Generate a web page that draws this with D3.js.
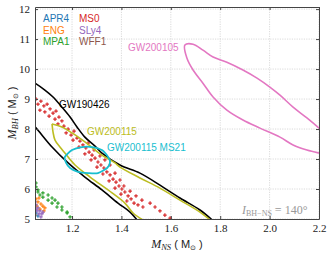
<!DOCTYPE html>
<html><head><meta charset="utf-8">
<script src="https://cdn.jsdelivr.net/npm/d3@7"></script>
<style>body{margin:0;background:#fff}svg{display:block}</style>
</head><body><svg id="c" width="333" height="254"></svg>
<script>
// ---------- data ----------
const xTicks = [1.2, 1.4, 1.6, 1.8, 2.0, 2.2];
const xTickLabels = ["1.2", "1.4", "1.6", "1.8", "2.0", "2.2"];
const yTicks = [5, 6, 7, 8, 9, 10, 11, 12];
const eosNames = ["APR4", "MS0", "ENG", "SLy4", "MPA1", "WFF1"];
const eosColors = ["#1f77b4", "#d62728", "#ff7f0e", "#9467bd", "#2ca02c", "#8c564b"];

// GW190426 contour (two branches)
const gw190426Upper = [[1.042,9.57],[1.05,9.53],[1.09,9.30],[1.123,9.07],[1.159,8.73],[1.192,8.40],[1.22,8.07],[1.252,7.73],[1.293,7.43],[1.321,7.20],[1.394,6.80],[1.475,6.53],[1.556,6.13],[1.637,5.70],[1.718,5.30],[1.767,4.97]];
const gw190426Lower = [[1.042,8.12],[1.05,8.07],[1.119,7.40],[1.184,6.87],[1.252,6.40],[1.321,5.97],[1.386,5.53],[1.435,5.23],[1.463,4.97]];
// GW200115 contour
const gw200115Upper = [[1.119,8.17],[1.159,8.07],[1.2,7.87],[1.252,7.57],[1.321,7.13],[1.374,6.87],[1.394,6.73],[1.475,6.37],[1.556,6.03],[1.637,5.63],[1.718,5.23],[1.759,4.97]];
const gw200115Lower = [[1.119,8.17],[1.123,7.90],[1.131,7.63],[1.151,7.40],[1.171,7.20],[1.212,6.80],[1.273,6.40],[1.362,5.87],[1.414,5.53],[1.447,5.20],[1.487,4.97]];
// GW200115 MS21 contour
const gw200115MS21 = [[1.171,7.07],[1.2,7.30],[1.24,7.40],[1.281,7.40],[1.321,7.30],[1.346,7.07],[1.354,6.90],[1.342,6.70],[1.305,6.53],[1.265,6.53],[1.224,6.57],[1.192,6.70],[1.176,6.87]];
// GW200105 contour (open at right edge)
const gw200105 = [[2.244,7.13],[2.2,7.20],[2.151,7.30],[2.095,7.47],[2.042,7.73],[1.961,8.03],[1.892,8.30],[1.827,8.63],[1.771,9.07],[1.73,9.53],[1.69,9.97],[1.665,10.37],[1.657,10.80],[1.69,10.83],[1.73,10.63],[1.771,10.40],[1.827,10.23],[1.892,9.97],[1.949,9.70],[2.001,9.40],[2.042,9.13],[2.095,8.73],[2.151,8.37],[2.2,8.03],[2.244,7.70]];

// EOS points
const ms0Points = [[1.054,9.00],[1.062,8.83],[1.074,8.93],[1.086,8.77],[1.099,8.83],[1.07,8.63],[1.09,8.57],[1.111,8.67],[1.123,8.53],[1.135,8.60],[1.107,8.43],[1.131,8.33],[1.147,8.40],[1.159,8.27],[1.143,8.17],[1.167,8.10],[1.184,8.00],[1.176,7.87],[1.196,7.80],[1.208,7.93],[1.22,7.70],[1.204,7.63],[1.232,7.60],[1.244,7.47],[1.228,7.40],[1.256,7.37],[1.269,7.23],[1.252,7.17],[1.281,7.13],[1.293,7.03],[1.277,6.97],[1.305,6.90],[1.317,6.80],[1.301,6.73],[1.329,6.70],[1.341,6.57],[1.325,6.50],[1.354,6.47],[1.366,6.33],[1.35,6.27],[1.378,6.23],[1.39,6.10],[1.374,6.03],[1.402,6.00],[1.414,5.90],[1.398,5.83],[1.427,5.77],[1.439,5.67],[1.422,5.60],[1.451,5.53],[1.467,5.47],[1.487,5.40],[1.516,5.53],[1.536,5.40],[1.556,5.27],[1.576,5.13],[1.597,5.03],[1.265,7.53],[1.289,7.30],[1.313,7.10],[1.333,6.97],[1.354,6.80],[1.374,6.53],[1.394,6.30],[1.41,6.10],[1.435,5.93],[1.459,5.77],[1.483,5.63]];
const mpa1Points = [[1.054,6.07],[1.062,5.97],[1.082,5.87],[1.103,5.80],[1.119,5.70],[1.131,5.63],[1.143,5.53],[1.159,5.40],[1.18,5.23],[1.192,5.07],[1.062,5.90],[1.07,5.80],[1.082,5.73],[1.103,5.63],[1.119,5.53],[1.139,5.40],[1.159,5.30],[1.18,5.20],[1.054,6.20]];
const engPoints = [[1.054,5.67],[1.066,5.70],[1.062,5.57],[1.074,5.50],[1.082,5.43],[1.09,5.37],[1.058,5.43],[1.07,5.33],[1.086,5.27]];
const sly4Points = [[1.05,5.57],[1.054,5.47],[1.062,5.37],[1.07,5.27],[1.078,5.17],[1.058,5.27],[1.066,5.17],[1.054,5.33],[1.074,5.07],[1.082,5.23]];
const apr4Points = [[1.054,5.20],[1.062,5.10]];
const wff1Points = [[1.05,5.13]];

// ---------- layout ----------
const W = 333, H = 254;
const m = {l: 35, r: 14, t: 7, b: 35};
const svg = d3.select("#c");
const x = d3.scaleLinear().domain([1.05, 2.2]).range([m.l, W - m.r]);
const y = d3.scaleLinear().domain([5, 12.07]).range([H - m.b, m.t]);
const serif = "'Liberation Serif','DejaVu Serif',serif";
const sans = "'Liberation Sans',Arial,sans-serif";

svg.append("defs").append("clipPath").attr("id", "clip")
  .append("rect").attr("x", m.l).attr("y", m.t)
  .attr("width", W - m.l - m.r).attr("height", H - m.t - m.b);

// grid
const grid = svg.append("g").attr("stroke", "#d0d0d0").attr("stroke-width", 0.8).attr("stroke-dasharray", "1.2,1.2");
grid.selectAll("line.v").data(xTicks).join("line")
  .attr("x1", d => x(d)).attr("x2", d => x(d)).attr("y1", m.t).attr("y2", H - m.b);
grid.selectAll("line.h").data(yTicks).join("line")
  .attr("x1", m.l).attr("x2", W - m.r).attr("y1", d => y(d)).attr("y2", d => y(d));

const plot = svg.append("g").attr("clip-path", "url(#clip)");
const line = d3.line().x(d => x(d[0])).y(d => y(d[1])).curve(d3.curveCatmullRom);
const closed = d3.line().x(d => x(d[0])).y(d => y(d[1])).curve(d3.curveCardinalClosed.tension(0.3));

// points
function pts(data, color) {
  plot.append("g").selectAll("path").data(data).join("path")
    .attr("transform", d => `translate(${x(d[0])},${y(d[1])})`)
    .attr("d", d3.symbol(d3.symbolCross, 7))
    .attr("fill", color);
}
pts(mpa1Points, eosColors[4]);
pts(apr4Points, eosColors[0]);
pts(wff1Points, eosColors[5]);
pts(engPoints, eosColors[2]);
pts(sly4Points, eosColors[3]);
pts(ms0Points, eosColors[1]);

// contours
plot.append("path").datum(gw200105).attr("d", line).attr("fill", "none").attr("stroke", "#e377c2").attr("stroke-width", 1.6);
[gw190426Upper, gw190426Lower].forEach(dd => plot.append("path").datum(dd).attr("d", line).attr("fill", "none").attr("stroke", "#000").attr("stroke-width", 1.6));
[gw200115Upper, gw200115Lower].forEach(dd => plot.append("path").datum(dd).attr("d", line).attr("fill", "none").attr("stroke", "#bcbd22").attr("stroke-width", 1.6));
plot.append("path").datum(gw200115MS21).attr("d", closed).attr("fill", "none").attr("stroke", "#17becf").attr("stroke-width", 1.8);

// frame and axes
const axisColor = "#444";
const gx = svg.append("g").attr("transform", `translate(0,${H - m.b})`)
  .call(d3.axisBottom(x).tickValues(xTicks).tickFormat((d, i) => xTickLabels[i]).tickSizeInner(-3).tickSizeOuter(0).tickPadding(5));
const gxt = svg.append("g").attr("transform", `translate(0,${m.t})`)
  .call(d3.axisTop(x).tickValues(xTicks).tickFormat("").tickSizeInner(-3).tickSizeOuter(0));
const gy = svg.append("g").attr("transform", `translate(${m.l},0)`)
  .call(d3.axisLeft(y).tickValues(yTicks).tickFormat(d3.format("d")).tickSizeInner(-3).tickSizeOuter(0).tickPadding(5));
const gyr = svg.append("g").attr("transform", `translate(${W - m.r},0)`)
  .call(d3.axisRight(y).tickValues(yTicks).tickFormat("").tickSizeInner(-3).tickSizeOuter(0));
[gx, gxt, gy, gyr].forEach(g => {
  g.select(".domain").attr("stroke", axisColor).attr("stroke-width", 1);
  g.selectAll(".tick line").attr("stroke", axisColor);
  g.selectAll("text").attr("font-family", serif).attr("font-size", 11).attr("fill", "#222");
});

// legend text
const legPos = [[43, 21.6], [79, 21.6], [43, 33.6], [79, 33.6], [43, 44.6], [79, 44.6]];
svg.append("g").selectAll("text").data(eosNames).join("text")
  .attr("x", (d, i) => legPos[i][0]).attr("y", (d, i) => legPos[i][1])
  .attr("font-family", sans).attr("font-size", 10)
  .attr("fill", (d, i) => eosColors[i]).text(d => d);

// event labels
const labels = [["GW200105", 128, 51, "#e377c2"], ["GW190426", 59, 108, "#000"], ["GW200115", 87, 135, "#bcbd22"], ["GW200115 MS21", 107, 151, "#17becf"]];
svg.append("g").selectAll("text").data(labels).join("text")
  .attr("x", d => d[1]).attr("y", d => d[2]).attr("fill", d => d[3])
  .attr("font-family", sans).attr("font-size", 10).text(d => d[0]);

// inclination annotation
const ann = svg.append("text").attr("x", 242).attr("y", 214).attr("fill", "#999").attr("font-family", serif).attr("font-size", 12);
ann.append("tspan").attr("font-style", "italic").text("I");
ann.append("tspan").attr("font-size", 8).attr("dy", 2).text("BH−NS");
ann.append("tspan").attr("dy", -2).text(" = 140°");

// axis labels
const xl = svg.append("text").attr("x", (m.l + W - m.r) / 2).attr("y", 248).attr("text-anchor", "middle").attr("fill", "#222").attr("font-size", 12);
xl.append("tspan").attr("font-family", serif).attr("font-style", "italic").text("M");
xl.append("tspan").attr("font-family", serif).attr("font-style", "italic").attr("font-size", 8.5).attr("dy", 2).text("NS");
xl.append("tspan").attr("font-family", sans).attr("dy", -2).attr("font-size", 11).text(" ( M");
xl.append("tspan").attr("font-family", sans).attr("font-size", 7).attr("dy", 2).text("⊙");
xl.append("tspan").attr("font-family", sans).attr("font-size", 11).attr("dy", -2).text(" )");

const yl = svg.append("text").attr("transform", `translate(16,${(m.t + H - m.b) / 2}) rotate(-90)`).attr("text-anchor", "middle").attr("fill", "#222").attr("font-size", 12);
yl.append("tspan").attr("font-family", serif).attr("font-style", "italic").text("M");
yl.append("tspan").attr("font-family", serif).attr("font-style", "italic").attr("font-size", 8.5).attr("dy", 2).text("BH");
yl.append("tspan").attr("font-family", sans).attr("dy", -2).attr("font-size", 11).text(" ( M");
yl.append("tspan").attr("font-family", sans).attr("font-size", 7).attr("dy", 2).text("⊙");
yl.append("tspan").attr("font-family", sans).attr("font-size", 11).attr("dy", -2).text(" )");
</script></body></html>
